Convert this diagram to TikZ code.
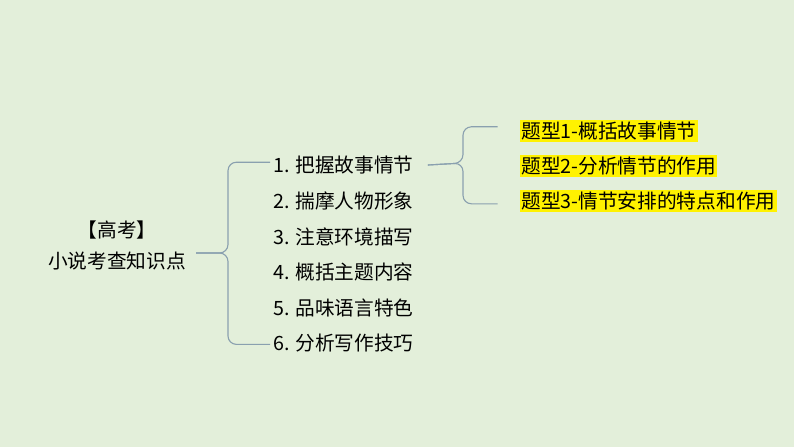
\documentclass[tikz,border=0pt]{standalone}
\usepackage{fontspec}
\setmainfont{Noto Sans CJK SC}
\usepackage{xcolor}
\usetikzlibrary{calc}
\definecolor{bgcol}{HTML}{E3EFDA}
\definecolor{linecol}{HTML}{8AA0AF}

\begin{document}
\begin{tikzpicture}[
  x=0.025cm,y=-0.025cm,
  font=\fontsize{14pt}{22pt}\selectfont,
  item/.style={anchor=west,inner sep=2pt,text=black},
  hl/.style={anchor=west,inner xsep=0.8pt,inner ysep=1.6pt,fill=yellow,text=black},
  brace/.style={draw=linecol,line width=0.8pt,rounded corners=6pt}
]
\fill[bgcol] (0,0) rectangle (794,447);
\node[align=center,inner sep=2pt] (root) at (117,245) {【高考】\\小说考查知识点};
\node[item] (i1) at (270,165) {1. 把握故事情节};
\node[item] (i2) at (270,201) {2. 揣摩人物形象};
\node[item] (i3) at (270,237) {3. 注意环境描写};
\node[item] (i4) at (270,272) {4. 概括主题内容};
\node[item] (i5) at (270,308) {5. 品味语言特色};
\node[item] (i6) at (270,343) {6. 分析写作技巧};
\node[hl] (t1) at (520,131) {题型1-概括故事情节};
\node[hl] (t2) at (520,166) {题型2-分析情节的作用};
\node[hl] (t3) at (520,201) {题型3-情节安排的特点和作用};
% left brace
\coordinate (k1) at (228,253);
\draw[brace] ($(root.east)+(7,8)$) -- (k1) |- ([yshift=2pt]i1.west);
\draw[brace] ($(root.east)+(7,8)$) -- (k1) |- ([yshift=-1pt]i6.west);
% right brace
\coordinate (k2) at (463,163);
\draw[brace] ([xshift=8pt]i1.east) -- (k2) |- ([shift={(-16pt,3pt)}]t1.west);
\draw[brace] ([xshift=8pt]i1.east) -- (k2) |- ([shift={(-16pt,-2pt)}]t3.west);
\end{tikzpicture}
\end{document}
